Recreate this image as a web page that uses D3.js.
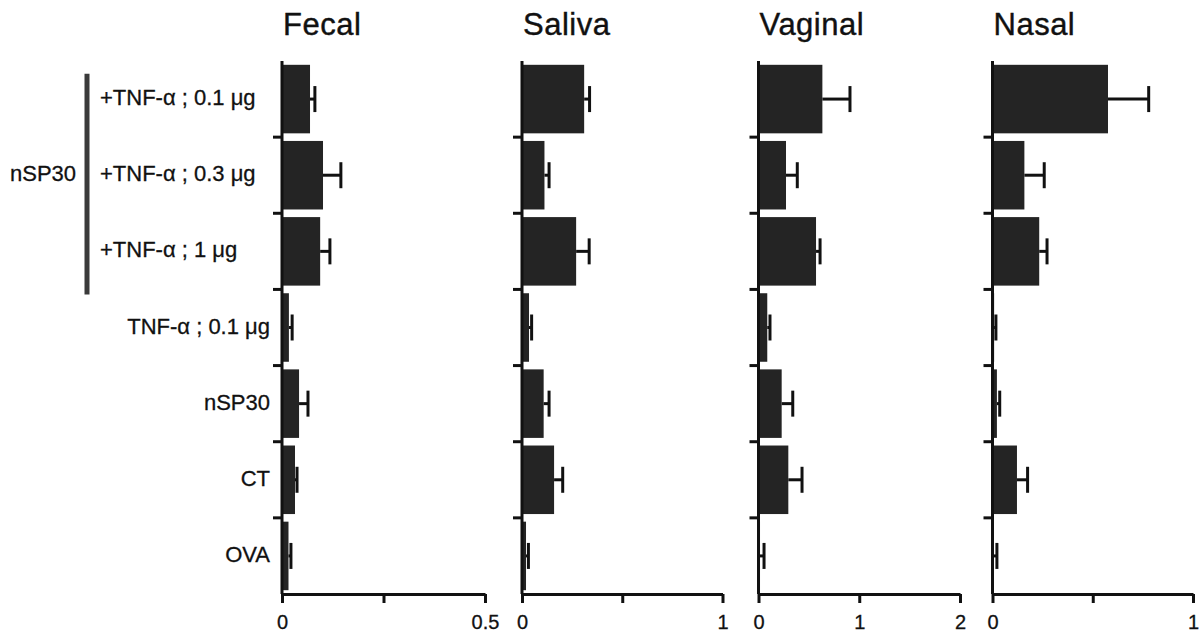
<!DOCTYPE html>
<html>
<head>
<meta charset="utf-8">
<script src="https://cdn.jsdelivr.net/npm/d3@7"></script>
<style>
  html, body { margin: 0; padding: 0; background: #fff; }
  svg { display: block; }
  text { font-family: "Liberation Sans", Arial, sans-serif; fill: #111; }
</style>
</head>
<body>
<svg id="chart" width="1202" height="636"></svg>
<script>
// ---------- data ----------
const categories = ["+TNF-α ; 0.1 μg", "+TNF-α ; 0.3 μg", "+TNF-α ; 1 μg", "TNF-α ; 0.1 μg", "nSP30", "CT", "OVA"];
const groupedCount = 3; // first three rows belong to the nSP30 bracket
const groupLabel = "nSP30";

const panelTitles = ["Fecal", "Saliva", "Vaginal", "Nasal"];
const panelMax = [0.5, 1, 2, 1];
const panelTicks = [[0, 0.25, 0.5], [0, 0.5, 1], [0, 1, 2], [0, 0.5, 1]];
const panelTickLabels = [["0", "", "0.5"], ["0", "", "1"], ["0", "1", "2"], ["0", "", "1"]];

const fecal      = [0.069, 0.101, 0.094, 0.017, 0.042, 0.032, 0.016];
const fecalErr   = [0.012, 0.044, 0.024, 0.008, 0.022, 0.005, 0.006];
const saliva     = [0.310, 0.112, 0.270, 0.035, 0.108, 0.160, 0.020];
const salivaErr  = [0.027, 0.023, 0.065, 0.013, 0.027, 0.043, 0.012];
const vaginal    = [0.634, 0.273, 0.571, 0.087, 0.230, 0.296, 0.015];
const vaginalErr = [0.274, 0.112, 0.040, 0.027, 0.110, 0.136, 0.040];
const nasal      = [0.576, 0.159, 0.233, 0.008, 0.022, 0.122, 0.006];
const nasalErr   = [0.203, 0.099, 0.039, 0.009, 0.014, 0.053, 0.016];

const panelValues = [fecal, saliva, vaginal, nasal];
const panelErrors = [fecalErr, salivaErr, vaginalErr, nasalErr];

// ---------- layout ----------
const panelLeft  = [282, 522, 758.5, 992.5];
const panelRight = [485, 722.5, 960, 1193];
const plotTop = 61, plotBottom = 594;
const barColor = "#242424";
const axisColor = "#111";

const svg = d3.select("#chart");

const y = d3.scaleBand()
  .domain(categories)
  .range([plotTop, plotBottom])
  .paddingInner(0.1)
  .paddingOuter(0.05);
const step = y.step();
const gapHalf = step * y.paddingInner() / 2;

panelTitles.forEach((title, p) => {
  const x = d3.scaleLinear().domain([0, panelMax[p]]).range([panelLeft[p], panelRight[p]]);
  const g = svg.append("g");
  const vals = panelValues[p], errs = panelErrors[p];

  // title
  g.append("text")
    .attr("x", panelLeft[p] + 1)
    .attr("y", 35)
    .style("font-size", "31px")
    .style("letter-spacing", "0.5px")
    .style("stroke", "#111")
    .style("stroke-width", "0.4px")
    .text(title);

  // bars
  g.selectAll("rect.bar")
    .data(categories)
    .join("rect")
    .attr("class", "bar")
    .attr("x", x(0))
    .attr("y", d => y(d))
    .attr("width", (d, i) => x(vals[i]) - x(0))
    .attr("height", y.bandwidth())
    .attr("fill", barColor);

  // error bars (upper only)
  const eb = g.selectAll("g.err")
    .data(categories)
    .join("g")
    .attr("class", "err");
  eb.append("line")
    .attr("x1", (d, i) => x(vals[i]))
    .attr("x2", (d, i) => x(vals[i] + errs[i]))
    .attr("y1", d => y(d) + y.bandwidth() / 2)
    .attr("y2", d => y(d) + y.bandwidth() / 2)
    .attr("stroke", axisColor)
    .attr("stroke-width", 3);
  eb.append("line")
    .attr("x1", (d, i) => x(vals[i] + errs[i]))
    .attr("x2", (d, i) => x(vals[i] + errs[i]))
    .attr("y1", d => y(d) + y.bandwidth() / 2 - 13)
    .attr("y2", d => y(d) + y.bandwidth() / 2 + 13)
    .attr("stroke", axisColor)
    .attr("stroke-width", 3);

  // y axis line
  g.append("line")
    .attr("x1", x(0)).attr("x2", x(0))
    .attr("y1", plotTop).attr("y2", plotBottom)
    .attr("stroke", axisColor).attr("stroke-width", 3);
  // category boundary ticks
  g.selectAll("line.ytick")
    .data(categories.slice(1))
    .join("line")
    .attr("class", "ytick")
    .attr("x1", x(0) - 9).attr("x2", x(0))
    .attr("y1", d => y(d) - gapHalf)
    .attr("y2", d => y(d) - gapHalf)
    .attr("stroke", axisColor).attr("stroke-width", 3);

  // x axis
  const ax = d3.axisBottom(x)
    .tickValues(panelTicks[p])
    .tickFormat((d, i) => panelTickLabels[p][i])
    .tickSize(9)
    .tickSizeOuter(0);
  const axG = g.append("g")
    .attr("transform", `translate(0,${plotBottom})`)
    .call(ax);
  axG.attr("font-size", null).attr("font-family", null);
  axG.select(".domain").attr("stroke", axisColor).attr("stroke-width", 3);
  axG.selectAll(".tick line").attr("stroke", axisColor).attr("stroke-width", 3);
  axG.selectAll(".tick text")
    .attr("y", 35).attr("dy", 0)
    .style("font-size", "20px")
    .style("font-family", "\"Liberation Sans\", Arial, sans-serif")
    .style("fill", "#111")
    .style("stroke", "#111")
    .style("stroke-width", "0.3px");
});

// category labels
svg.selectAll("text.cat")
  .data(categories)
  .join("text")
  .attr("class", "cat")
  .style("font-size", "22px")
  .style("stroke", "#111")
  .style("stroke-width", "0.3px")
  .attr("x", (d, i) => i < groupedCount ? 100 : 270)
  .attr("text-anchor", (d, i) => i < groupedCount ? "start" : "end")
  .attr("y", d => y(d) + y.bandwidth() / 2 + 6)
  .text(d => d);

// nSP30 bracket
const g0 = categories[0], gN = categories[groupedCount - 1];
svg.append("line")
  .attr("x1", 87).attr("x2", 87)
  .attr("y1", y(g0) + 9)
  .attr("y2", y(gN) + y.bandwidth() + 9)
  .attr("stroke", "#3a3a3a")
  .attr("stroke-width", 5);
svg.append("text")
  .attr("x", 10)
  .attr("y", y(categories[1]) + y.bandwidth() / 2 + 6)
  .style("font-size", "22px")
  .style("stroke", "#111")
  .style("stroke-width", "0.3px")
  .text(groupLabel);
</script>
</body>
</html>
